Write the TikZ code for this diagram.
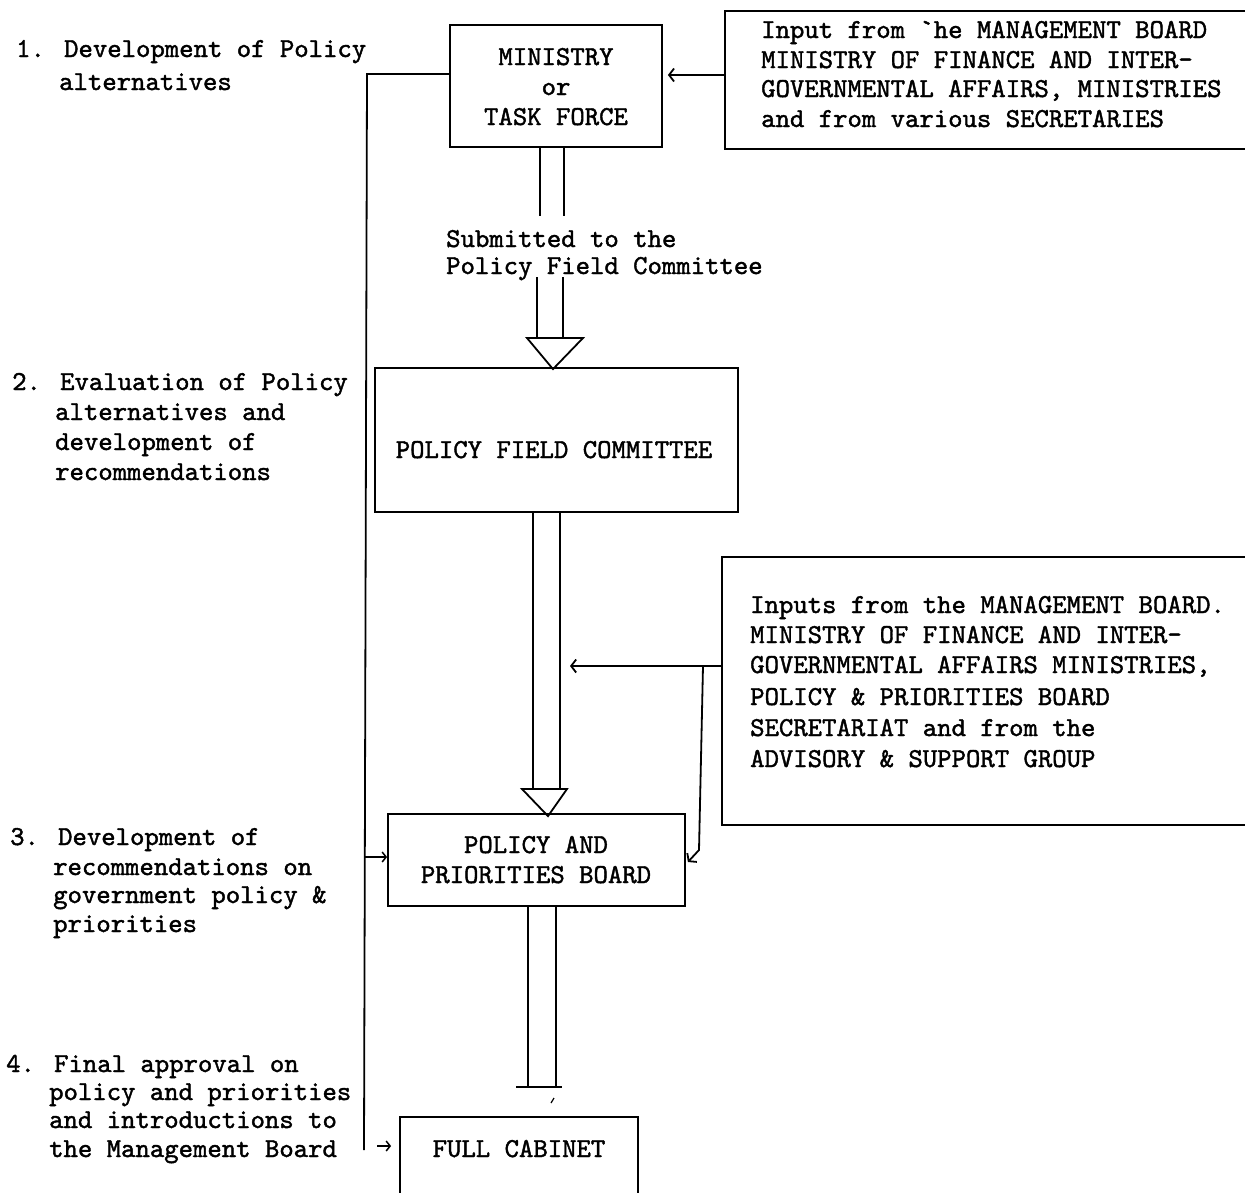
\documentclass[tikz,border=0pt]{standalone}
\usetikzlibrary{arrows.meta}
\font\twfont="[lmmono10-regular]:embolden=1.5" at 27.4pt
\begin{document}
\begin{tikzpicture}[x=1pt,y=-1pt,
  box/.style={draw, line width=1.8pt, inner sep=0pt, rectangle},
  openbox/.style={draw=none, inner sep=0pt, rectangle},
  txt/.style={font=\twfont, inner sep=0pt},
  ln/.style={line width=1.8pt},
  arr/.style={line width=1.8pt, -{Straight Barb[length=5pt,width=13pt]}},
  sarr/.style={line width=1.5pt, -{Straight Barb[length=4pt,width=10pt]}}]
\clip (0,0) rectangle (1245,1192);
\fill[white] (0,0) rectangle (1245,1192);

% boxes
\node[box, minimum width=212pt, minimum height=122pt] (min) at (556,86) {};
\node[box, minimum width=363pt, minimum height=144pt] (pfc) at (556.5,440) {};
\node[box, minimum width=297pt, minimum height=92pt] (ppb) at (536.5,860) {};
\node[box, minimum width=238pt, minimum height=93pt] (fc) at (519,1163.5) {};
\node[openbox, minimum width=545pt, minimum height=138pt] (inA) at (997.5,80) {};
\node[openbox, minimum width=548pt, minimum height=268pt] (inB) at (996,691) {};
\draw[ln] (inA.north east) -- (inA.north west) -- (inA.south west) -- (inA.south east);
\draw[ln] (inB.north east) -- (inB.north west) -- (inB.south west) -- (inB.south east);

% left texts
\node[txt, anchor=base west] (l1a) at (16,57) {1. Development of Policy};
\node[txt, anchor=base west] (l1b) at (59,90) {alternatives};
\node[txt, anchor=base west] (l2a) at (12,390) {2. Evaluation of Policy};
\node[txt, anchor=base west] (l2b) at (55,420) {alternatives and};
\node[txt, anchor=base west] (l2c) at (55,450) {development of};
\node[txt, anchor=base west] (l2d) at (55,480) {recommendations};
\node[txt, anchor=base west] (l3a) at (10,845) {3. Development of};
\node[txt, anchor=base west] (l3b) at (53,875) {recommendations on};
\node[txt, anchor=base west] (l3c) at (53,903) {government policy \&};
\node[txt, anchor=base west] (l3d) at (53,932) {priorities};
\node[txt, anchor=base west] (l4a) at (6,1072) {4. Final approval on};
\node[txt, anchor=base west] (l4b) at (49,1100) {policy and priorities};
\node[txt, anchor=base west] (l4c) at (49,1128) {and introductions to};
\node[txt, anchor=base west] (l4d) at (49,1157) {the Management Board};

% box texts
\node[txt, anchor=base] (m1) at (556,65) {MINISTRY};
\node[txt, anchor=base] (m2) at (556,95) {or};
\node[txt, anchor=base] (m3) at (556,125) {TASK FORCE};
\node[txt, anchor=base] (pf) at (554,458) {POLICY FIELD COMMITTEE};
\node[txt, anchor=base] (p1) at (536,853) {POLICY AND};
\node[txt, anchor=base] (p2) at (536,883) {PRIORITIES BOARD};
\node[txt, anchor=base] (f1) at (519,1157) {FULL CABINET};

\node[txt, anchor=base west] (a1) at (761,38) {Input from `he MANAGEMENT BOARD};
\node[txt, anchor=base west] (a2) at (761,68) {MINISTRY OF FINANCE AND INTER-};
\node[txt, anchor=base west] (a3) at (761,97) {GOVERNMENTAL AFFAIRS, MINISTRIES};
\node[txt, anchor=base west] (a4) at (761,127) {and from various SECRETARIES};

\node[txt, anchor=base west] (b1) at (750,613) {Inputs from the MANAGEMENT BOARD.};
\node[txt, anchor=base west] (b2) at (750,643) {MINISTRY OF FINANCE AND INTER-};
\node[txt, anchor=base west] (b3) at (750,673) {GOVERNMENTAL AFFAIRS MINISTRIES,};
\node[txt, anchor=base west] (b4) at (750,705) {POLICY \& PRIORITIES BOARD};
\node[txt, anchor=base west] (b5) at (750,736) {SECRETARIAT and from the};
\node[txt, anchor=base west] (b6) at (750,767) {ADVISORY \& SUPPORT GROUP};

\node[txt, anchor=base west] (s1) at (446,247) {Submitted to the};
\node[txt, anchor=base west] (s2) at (446,274) {Policy Field Committee};

% hollow arrow Ministry -> PFC
\draw[ln] ([xshift=-16pt]min.south) -- ++(0,68);
\draw[ln] ([xshift=8pt]min.south) -- ++(0,68);
\draw[ln] (537,277) -- (537,338);
\draw[ln] (563,277) -- (563,338);
\draw[ln, line join=miter] (527,338) -- (583,338) -- ([yshift=-2pt]pfc.north -| 553,0) -- cycle;

% hollow arrow PFC -> PPB
\draw[ln] ([xshift=-23.5pt]pfc.south) -- (533,789);
\draw[ln] ([xshift=3.5pt]pfc.south) -- (560,789);
\draw[ln] (522,789) -- (567,789) -- ([yshift=-3pt]ppb.north -| 548,0) -- cycle;

% double line PPB -> FC
\draw[ln] ([xshift=-8.5pt]ppb.south) -- (528,1087);
\draw[ln] ([xshift=19.5pt]ppb.south) -- (556,1087);
\draw[ln] (516,1087) -- (562,1087);
\draw[line width=1.2pt] (551,1103) -- (554,1098);

% input arrows
\draw[arr] (inA.west |- 0,75) -- ([xshift=5pt]min.east |- 0,75);
\coordinate (inBtip) at (570,666);
\coordinate (brk) at (703,666);
\draw[arr] (inB.west |- 0,666) -- (inBtip);
\draw[arr] (brk) -- (699,850) -- ([xshift=2pt]ppb.east |- 0,862);

% feedback line on the left
\coordinate (fbA) at (min.west |- 0,74);
\coordinate (fbB) at (367,74);
\coordinate (fbC) at (364,1150);
\draw[ln] (fbA) -- (fbB) -- (fbC);
\coordinate (fbP) at (365,857);
\draw[sarr] (fbP) -- (ppb.west |- fbP);
\coordinate (fbF) at (377,1146);
\draw[sarr] (fbF) -- ([xshift=-8pt]fc.west |- fbF);
\end{tikzpicture}
\end{document}
